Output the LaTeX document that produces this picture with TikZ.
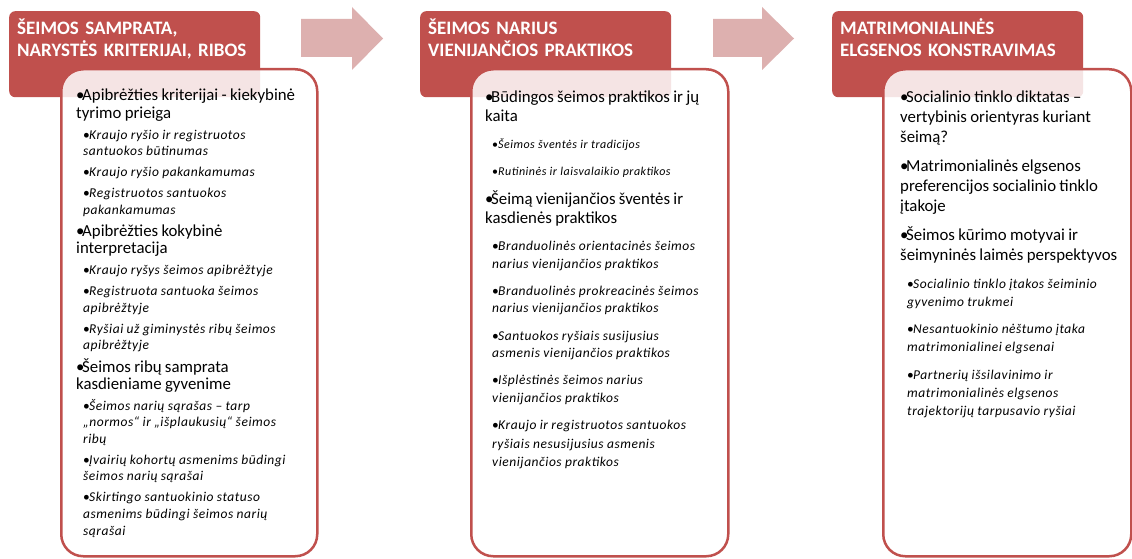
\documentclass[tikz,border=0pt]{standalone}
\usepackage{fontspec}
\setmainfont{Carlito}
\usetikzlibrary{positioning}
\definecolor{hdred}{RGB}{192,80,77}
\definecolor{arrowpink}{RGB}{221,176,175}
% sizes of one column: L1 size, L1 skip, L2 size, L2 skip, parskip
\newcommand\colset[5]{\def\onesz{#1}\def\onesk{#2}\def\twosz{#3}\def\twosk{#4}\setlength\parskip{#5pt}}
\newcommand\pone[1]{\fontsize{\onesz}{\onesk}\selectfont\leftskip=0pt\hangindent=6pt\hangafter=1\noindent\makebox[6pt][l]{\textbullet}#1\par}
\newcommand\ptwo[2][\twosz]{\fontsize{#1}{\twosk}\selectfont\leftskip=7pt\hangindent=6pt\hangafter=1\noindent\makebox[6pt][l]{\textbullet}{\itshape\addfontfeatures{LetterSpace=4}#2}\par}
\begin{document}
\begin{tikzpicture}[x=1pt,y=-1pt,
  head/.style={anchor=north west,fill=hdred,rounded corners=6pt,minimum width=251pt,minimum height=86pt,inner sep=0pt},
  headtxt/.style={anchor=base west,inner sep=0pt,text width=250pt,align=left,text=white,font=\fontsize{19}{21.5}\selectfont\bfseries},
  bodybox/.style={anchor=north west,draw=hdred,line width=2.5pt,fill=white,fill opacity=0.85,rounded corners=22pt,minimum height=487pt,inner sep=0pt},
  coltxt/.style={anchor=base west,inner sep=0pt,text width=250pt,align=left}]
\useasboundingbox[fill=white] (0,0) rectangle (1132,559);
% headers
\node[head] (h1) at (9,11) {};
\node[head] (h2) at (420,11) {};
\node[head] (h3) at (832,11) {};
\node[headtxt] at ([xshift=8pt,yshift=-24pt]h1.north west) {ŠEIMOS SAMPRATA,\\NARYSTĖS KRITERIJAI, RIBOS};
\node[headtxt] at ([xshift=8pt,yshift=-24pt]h2.north west) {ŠEIMOS NARIUS\\VIENIJANČIOS PRAKTIKOS};
\node[headtxt] at ([xshift=8pt,yshift=-24pt]h3.north west) {MATRIMONIALINĖS\\ELGSENOS KONSTRAVIMAS};
% arrows
\foreach \ax/\hx/\tx in {301/352/383,713/762/794}
  \fill[arrowpink] (\ax,19) -- (\hx,19) -- (\hx,7) -- (\tx,38.5) -- (\hx,70) -- (\hx,57) -- (\ax,57) -- cycle;
% bodies
\node[bodybox,minimum width=256pt] (b1) at (60,68) {};
\node[bodybox,minimum width=257pt] (b2) at (470,68) {};
\node[bodybox,minimum width=248pt] (b3) at (882,68) {};
\node[coltxt] (t1) at ([xshift=16pt,yshift=-33pt]b1.north west) {\colset{16.8}{17.5}{13.5}{16.5}{4.5}%
\pone{Apibrėžties kriterijai - kiekybinė\\tyrimo prieiga}
\ptwo{Kraujo ryšio ir registruotos\\santuokos būtinumas}
\ptwo{Kraujo ryšio pakankamumas}
\ptwo{Registruotos santuokos\\pakankamumas}
\pone{Apibrėžties kokybinė\\interpretacija}
\ptwo{Kraujo ryšys šeimos apibrėžtyje}
\ptwo{Registruota santuoka šeimos\\apibrėžtyje}
\ptwo{Ryšiai už giminystės ribų šeimos\\apibrėžtyje}
\pone{Šeimos ribų samprata\\kasdieniame gyvenime}
\ptwo{Šeimos narių sąrašas – tarp\\„normos“ ir „išplaukusių“ šeimos\\ribų}
\ptwo{Įvairių kohortų asmenims būdingi\\šeimos narių sąrašai}
\ptwo{Skirtingo santuokinio statuso\\asmenims būdingi šeimos narių\\sąrašai}};
\node[coltxt] (t2) at ([xshift=15pt,yshift=-35pt]b2.north west) {\colset{16.8}{19}{13.5}{18}{9}%
\pone{Būdingos šeimos praktikos ir jų\\kaita}
\ptwo[12]{Šeimos šventės ir tradicijos}
\ptwo[12]{Rutininės ir laisvalaikio praktikos}
\pone{Šeimą vienijančios šventės ir\\kasdienės praktikos}
\ptwo{Branduolinės orientacinės šeimos\\narius vienijančios praktikos}
\ptwo{Branduolinės prokreacinės šeimos\\narius vienijančios praktikos}
\ptwo{Santuokos ryšiais susijusius\\asmenis vienijančios praktikos}
\ptwo{Išplėstinės šeimos narius\\vienijančios praktikos}
\ptwo{Kraujo ir registruotos santuokos\\ryšiais nesusijusius asmenis\\vienijančios praktikos}};
\node[coltxt] (t3) at ([xshift=18pt,yshift=-35pt]b3.north west) {\colset{16.8}{19.8}{13.5}{18}{9.5}%
\pone{Socialinio tinklo diktatas –\\vertybinis orientyras kuriant\\šeimą?}
\pone{Matrimonialinės elgsenos\\preferencijos socialinio tinklo\\įtakoje}
\pone{Šeimos kūrimo motyvai ir\\šeimyninės laimės perspektyvos}
\ptwo{Socialinio tinklo įtakos šeiminio\\gyvenimo trukmei}
\ptwo{Nesantuokinio nėštumo įtaka\\matrimonialinei elgsenai}
\ptwo{Partnerių išsilavinimo ir\\matrimonialinės elgsenos\\trajektorijų tarpusavio ryšiai}};
\end{tikzpicture}
\end{document}
